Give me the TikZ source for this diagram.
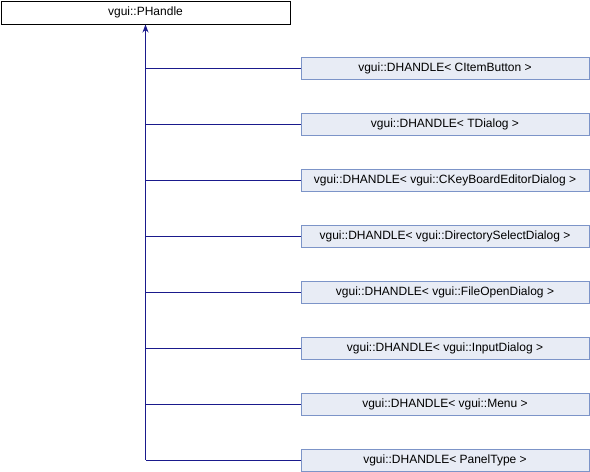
\documentclass[tikz,border=0pt]{standalone}
\usepackage{fontspec}
\setmainfont{Liberation Sans}
\usetikzlibrary{arrows.meta}
\definecolor{boxfill}{HTML}{E8ECF5}
\definecolor{boxdraw}{HTML}{7C94C8}
\definecolor{linkcol}{HTML}{1A1A8C}
\begin{document}
\begin{tikzpicture}[x=1pt,y=-1pt,
  base/.style={draw=black,fill=white,line width=1pt,minimum width=289pt,minimum height=23pt,inner sep=0pt,font=\fontsize{12}{14}\selectfont,anchor=north west},
  child/.style={draw=boxdraw,fill=boxfill,line width=1pt,minimum width=288pt,minimum height=22pt,inner sep=0pt,font=\fontsize{12}{14}\selectfont,anchor=west},
  link/.style={draw=linkcol,line width=1pt},
  every node/.style={text=black}]
\useasboundingbox (0,0) rectangle (590,472);
\node[base] (p) at (0.5,0.5) {vgui::PHandle};
\coordinate (top) at (145.5,23);
\foreach \i/\t in {0/CItemButton,1/TDialog,2/vgui::CKeyBoardEditorDialog,3/vgui::DirectorySelectDialog,4/vgui::FileOpenDialog,5/vgui::InputDialog,6/vgui::Menu,7/PanelType}{
  \node[child] (c\i) at (300.5,68+56*\i) {vgui::DHANDLE< \t\ >};
  \coordinate (j\i) at (145.5,68+56*\i);
  \draw[link] (c\i.west) -- (j\i);
}
\draw[link,-{Stealth[length=8pt,width=6pt]}] (j7) -- (p.south -| top);
\end{tikzpicture}
\end{document}
